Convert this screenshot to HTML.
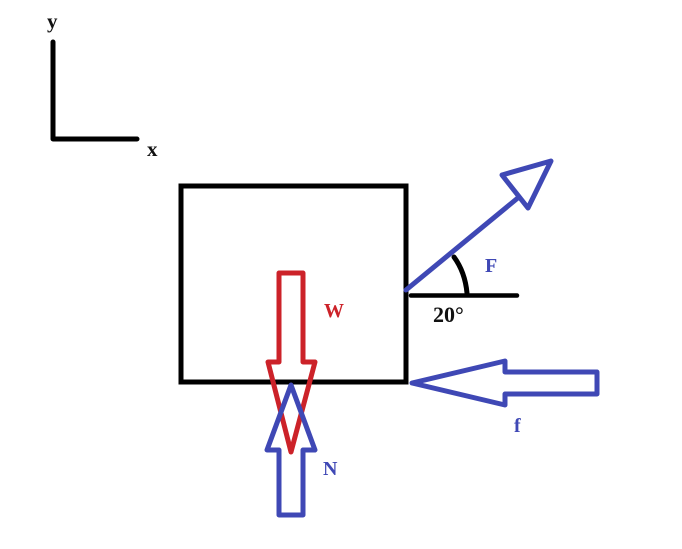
<!DOCTYPE html>
<html>
<head>
<meta charset="utf-8">
<style>
html,body{margin:0;padding:0;background:#fff;width:682px;height:549px;overflow:hidden}
svg{display:block}
text{font-family:"Liberation Serif",serif;font-weight:bold;font-size:20px}
</style>
</head>
<body>
<svg width="682" height="549" viewBox="0 0 682 549" xmlns="http://www.w3.org/2000/svg">
<rect width="682" height="549" fill="#fff"/>
<g fill="none" stroke-linejoin="round" stroke-linecap="round">
<path d="M53 42V139H137" stroke="#000" stroke-width="5"/>
<rect x="181" y="186" width="225" height="196" stroke="#000" stroke-width="5" stroke-linejoin="miter"/>
<path d="M411 295.500H517" stroke="#000" stroke-width="4.500"/>
<path d="M454 257Q465 272 467 293" stroke="#000" stroke-width="5"/>
<path d="M406 290L519 197" stroke="#3f48b5" stroke-width="5"/>
<path d="M502 175L551 161L528 208Z" stroke="#3f48b5" stroke-width="5"/>
<path d="M412 383L505 361V372H597V394H505V405Z" stroke="#3f48b5" stroke-width="5"/>
<path d="M279 273H303V362H315L291 452L268 362H279Z" stroke="#cc2229" stroke-width="5"/>
<path d="M291 385L315 450H303V515H279V450H267Z" stroke="#3f48b5" stroke-width="5"/>
</g>
<text x="47" y="28" fill="#111" font-size="21" style="font-size:21px">y</text>
<text x="147" y="156" fill="#111" style="font-size:21px">x</text>
<text x="324" y="317" fill="#cc2229">W</text>
<text x="485" y="272" fill="#3f48b5">F</text>
<text x="433" y="322" fill="#111" style="font-size:22px">20°</text>
<text x="514" y="432" fill="#3f48b5">f</text>
<text x="323" y="475" fill="#3f48b5">N</text>
</svg>
</body>
</html>
